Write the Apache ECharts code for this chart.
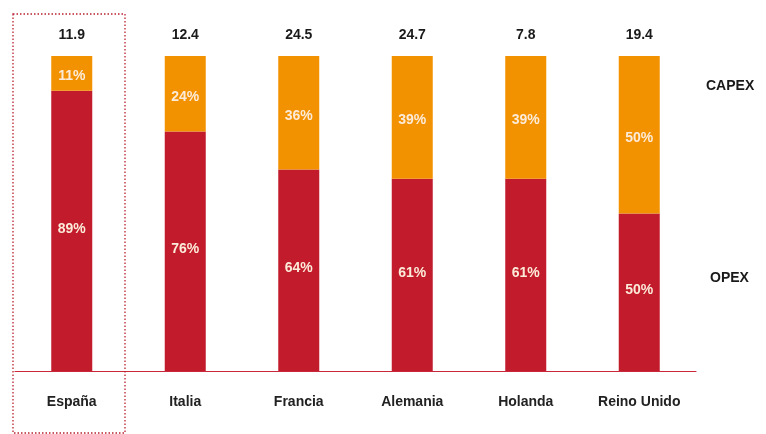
<!DOCTYPE html>
<html>
<head>
<meta charset="utf-8">
<script src="https://cdn.jsdelivr.net/npm/echarts@6/dist/echarts.min.js"></script>
<style>
  html, body { margin: 0; padding: 0; background: #fff; }
  #chart { width: 766px; height: 434px; }
</style>
</head>
<body>
<div id="chart"></div>
<script>
// Cost split per country: operating vs capital expenditure (share, %), with totals on top
const countries = ['España', 'Italia', 'Francia', 'Alemania', 'Holanda', 'Reino Unido'];
const opexShare = [89, 76, 64, 61, 61, 50];
const capexShare = [11, 24, 36, 39, 39, 50];
const totals = ['11.9', '12.4', '24.5', '24.7', '7.8', '19.4'];

const RED = '#c11b2c';
const ORANGE = '#f39200';
const LABEL_LIGHT = '#fcebd9';
const FONT = '"Liberation Sans", Arial, sans-serif';

const chart = echarts.init(document.getElementById('chart'), null, { renderer: 'canvas' });

const pctLabel = {
  show: true,
  position: 'inside',
  color: LABEL_LIGHT,
  fontFamily: FONT,
  fontWeight: 'bold',
  fontSize: 14,
  formatter: p => p.value + '%'
};

chart.setOption({
  animation: false,
  grid: { left: 15, right: 70, top: 56, bottom: 63 },
  xAxis: {
    type: 'category',
    data: countries,
    axisLine: { lineStyle: { color: '#c8283a', width: 1.2 } },
    axisTick: { show: false },
    axisLabel: {
      margin: 24,
      color: '#222',
      fontFamily: FONT,
      fontWeight: 'bold',
      fontSize: 14
    }
  },
  yAxis: {
    type: 'value',
    min: 0,
    max: 100,
    show: false,
    splitLine: { show: false }
  },
  series: [
    {
      name: 'OPEX',
      type: 'bar',
      stack: 'share',
      barWidth: 41,
      data: opexShare,
      itemStyle: { color: RED },
      label: Object.assign({}, pctLabel, { offset: [0, -2] })
    },
    {
      name: 'CAPEX',
      type: 'bar',
      stack: 'share',
      barWidth: 41,
      data: capexShare,
      itemStyle: { color: ORANGE },
      label: Object.assign({}, pctLabel, { offset: [0, 3] })
    },
    {
      // invisible carrier for the total figure above each column
      name: 'Total',
      type: 'bar',
      stack: 'share',
      barWidth: 41,
      data: totals.map(() => 0),
      itemStyle: { color: 'transparent' },
      label: {
        show: true,
        position: 'top',
        distance: 14,
        color: '#1a1a1a',
        fontFamily: FONT,
        fontWeight: 'bold',
        fontSize: 14,
        formatter: p => totals[p.dataIndex]
      }
    }
  ],
  graphic: [
    {
      type: 'rect',
      shape: { x: 13, y: 14, width: 112, height: 419 },
      style: { fill: 'none', stroke: '#b8202e', lineWidth: 1.3, lineDash: [1.5, 2] },
      z: 10
    },
    {
      type: 'text',
      left: 706,
      top: 79,
      style: { text: 'CAPEX', fill: '#1a1a1a', font: 'bold 14px ' + FONT }
    },
    {
      type: 'text',
      left: 710,
      top: 271,
      style: { text: 'OPEX', fill: '#1a1a1a', font: 'bold 14px ' + FONT }
    }
  ]
});
</script>
</body>
</html>
